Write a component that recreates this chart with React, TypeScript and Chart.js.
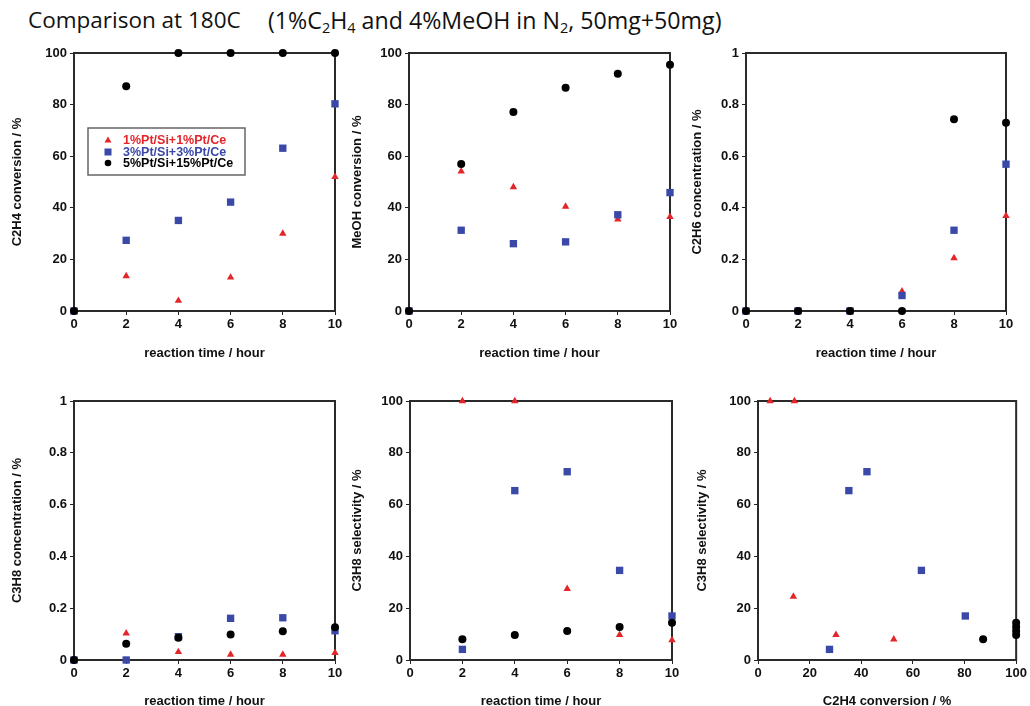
import React, { useEffect, useRef } from "react";
import { Chart, registerables } from "chart.js";

Chart.register(...registerables);

// ---------- data ----------
const seriesNames = ["1%Pt/Si+1%Pt/Ce", "3%Pt/Si+3%Pt/Ce", "5%Pt/Si+15%Pt/Ce"];
const hours = [0, 2, 4, 6, 8, 10];
const selHours = [2, 4, 6, 8, 10];

// C2H4 conversion / %
const c2h4ConvRed = [0, 13.5, 4.0, 13.0, 30.0, 52.0];
const c2h4ConvBlue = [0, 27.4, 35.1, 42.2, 63.1, 80.3];
const c2h4ConvBlack = [0, 87.1, 100, 100, 100, 100];

// MeOH conversion / %
const meohConvRed = [0, 54.1, 48.0, 40.5, 35.5, 36.5];
const meohConvBlue = [0, 31.3, 26.1, 26.8, 37.3, 45.9];
const meohConvBlack = [0, 57.0, 77.1, 86.5, 92.0, 95.4];

// C2H6 concentration / %
const c2h6Red = [0, 0, 0, 0.076, 0.205, 0.369];
const c2h6Blue = [0, 0, 0, 0.06, 0.313, 0.569];
const c2h6Black = [0, 0, 0, 0, 0.743, 0.73];

// C3H8 concentration / %
const c3h8Red = [0, 0.103, 0.031, 0.021, 0.021, 0.028];
const c3h8Blue = [0, 0, 0.09, 0.161, 0.163, 0.113];
const c3h8Black = [0, 0.063, 0.086, 0.098, 0.111, 0.126];

// C3H8 selectivity / % vs time
const selRed = [100, 100, 27.5, 9.7, 7.7];
const selBlue = [4.1, 65.4, 72.7, 34.6, 17.0];
const selBlack = [8.0, 9.7, 11.2, 12.7, 14.4];

// C3H8 selectivity / % vs C2H4 conversion / %
const convXRed = [4.7, 14.1, 13.7, 30.2, 52.6];
const convYRed = [100, 100, 24.5, 9.7, 8.0];
const convXBlue = [27.7, 35.2, 42.2, 63.3, 80.3];
const convYBlue = [4.1, 65.4, 72.7, 34.6, 17.0];
const convXBlack = [87.2, 100, 100, 100, 100];
const convYBlack = [8.0, 9.7, 11.2, 12.7, 14.4];

// ---------- styles ----------
const RED = "#e3262a";
const BLUE = "#3a49a8";
const BLACK = "#000000";
const FONT = "'Liberation Sans', Arial, sans-serif";

const pts = (xs: number[], ys: number[]) => xs.map((x, i) => ({ x, y: ys[i] }));

const mkSets = (xr: number[], yr: number[], xb: number[], yb: number[], xk: number[], yk: number[]) => [
  { label: seriesNames[0], data: pts(xr, yr), pointStyle: "triangle", pointRadius: 4.3, backgroundColor: RED, borderColor: RED, borderWidth: 0, showLine: false, clip: false, order: 3 },
  { label: seriesNames[1], data: pts(xb, yb), pointStyle: "rect", pointRadius: 5.2, backgroundColor: BLUE, borderColor: BLUE, borderWidth: 0, showLine: false, clip: false, order: 2 },
  { label: seriesNames[2], data: pts(xk, yk), pointStyle: "circle", pointRadius: 4, backgroundColor: BLACK, borderColor: BLACK, borderWidth: 0, showLine: false, clip: false, order: 1 },
];

const framePlugin = {
  id: "frame",
  beforeDatasetsDraw(chart: any) {
    const { ctx, chartArea: a } = chart;
    ctx.save();
    ctx.strokeStyle = "#2a2a2a";
    ctx.lineWidth = 2;
    ctx.strokeRect(a.left, a.top, a.right - a.left, a.bottom - a.top);
    ctx.restore();
  },
};

const legendPlugin = {
  id: "boxLegend",
  afterDraw(chart: any) {
    const { ctx, chartArea: a } = chart;
    const left = a.left + 14;
    const top = a.top + 75;
    const w = 157;
    const h = 47;
    ctx.save();
    ctx.fillStyle = "#ffffff";
    ctx.fillRect(left, top, w, h);
    ctx.strokeStyle = "#666";
    ctx.lineWidth = 1.5;
    ctx.strokeRect(left, top, w, h);
    const colors = [RED, BLUE, BLACK];
    const rows = [12, 24, 35];
    ctx.font = `bold 12.5px ${FONT}`;
    ctx.textBaseline = "middle";
    seriesNames.forEach((name, i) => {
      const mx = left + 20;
      const my = top + rows[i];
      ctx.fillStyle = colors[i];
      ctx.beginPath();
      if (i === 0) {
        ctx.moveTo(mx, my - 3.5);
        ctx.lineTo(mx + 3.5, my + 2.5);
        ctx.lineTo(mx - 3.5, my + 2.5);
        ctx.closePath();
      } else if (i === 1) {
        ctx.rect(mx - 3.5, my - 3.5, 7, 7);
      } else {
        ctx.arc(mx, my, 3.3, 0, Math.PI * 2);
      }
      ctx.fill();
      ctx.fillText(name, left + 35, my + 0.5);
    });
    ctx.restore();
  },
};

type Panel = {
  left: number; top: number; yW: number; plotW: number; plotH: number; xH: number;
  xMax: number; xStep: number; yMax: number; yStep: number;
  xTitle: string; yTitle: string; datasets: any[]; legend?: boolean;
};

const PAD_T = 12;
const PAD_R = 10;

const panels: Panel[] = [
  { left: 10, top: 53 - PAD_T, yW: 64, plotW: 261, plotH: 258, xH: 50, xMax: 10, xStep: 2, yMax: 100, yStep: 20,
    xTitle: "reaction time / hour", yTitle: "C2H4 conversion / %", datasets: mkSets(hours, c2h4ConvRed, hours, c2h4ConvBlue, hours, c2h4ConvBlack), legend: true },
  { left: 350, top: 53 - PAD_T, yW: 59, plotW: 261, plotH: 258, xH: 50, xMax: 10, xStep: 2, yMax: 100, yStep: 20,
    xTitle: "reaction time / hour", yTitle: "MeOH conversion / %", datasets: mkSets(hours, meohConvRed, hours, meohConvBlue, hours, meohConvBlack) },
  { left: 690, top: 53 - PAD_T, yW: 56, plotW: 260, plotH: 258, xH: 50, xMax: 10, xStep: 2, yMax: 1, yStep: 0.2,
    xTitle: "reaction time / hour", yTitle: "C2H6 concentration / %", datasets: mkSets(hours, c2h6Red, hours, c2h6Blue, hours, c2h6Black) },
  { left: 10, top: 401 - PAD_T, yW: 64, plotW: 261, plotH: 259, xH: 49, xMax: 10, xStep: 2, yMax: 1, yStep: 0.2,
    xTitle: "reaction time / hour", yTitle: "C3H8 concentration / %", datasets: mkSets(hours, c3h8Red, hours, c3h8Blue, hours, c3h8Black) },
  { left: 350, top: 401 - PAD_T, yW: 60, plotW: 262, plotH: 259, xH: 49, xMax: 10, xStep: 2, yMax: 100, yStep: 20,
    xTitle: "reaction time / hour", yTitle: "C3H8 selectivity / %", datasets: mkSets(selHours, selRed, selHours, selBlue, selHours, selBlack) },
  { left: 695, top: 401 - PAD_T, yW: 63, plotW: 261, plotH: 259, xH: 49, xMax: 100, xStep: 20, yMax: 100, yStep: 20,
    xTitle: "C2H4 conversion / %", yTitle: "C3H8 selectivity / %", datasets: mkSets(convXRed, convYRed, convXBlue, convYBlue, convXBlack, convYBlack) },
];

const fmt = (v: any) => String(Math.round(Number(v) * 10) / 10);

function PanelChart({ p }: { p: Panel }) {
  const ref = useRef<HTMLCanvasElement | null>(null);
  const W = p.yW + p.plotW + PAD_R;
  const H = PAD_T + p.plotH + p.xH;
  useEffect(() => {
    if (!ref.current) return;
    const tickFont = { family: FONT, size: 13, weight: "bold" as const };
    const chart = new Chart(ref.current, {
      type: "scatter",
      data: { datasets: p.datasets },
      options: {
        animation: false,
        responsive: false,
        devicePixelRatio: 1,
        layout: { padding: { top: PAD_T, right: PAD_R, left: 0, bottom: 0 } },
        plugins: { legend: { display: false }, tooltip: { enabled: false } },
        scales: {
          x: {
            type: "linear", min: 0, max: p.xMax,
            ticks: { stepSize: p.xStep, font: tickFont, color: "#111", padding: 2, maxRotation: 0, autoSkip: false, callback: fmt },
            grid: { display: true, drawOnChartArea: false, drawTicks: true, tickLength: 4, color: "#222", lineWidth: 1 },
            border: { display: false },
            title: { display: true, text: p.xTitle, font: tickFont, color: "#111", padding: 0 },
            afterFit: (s: any) => { s.height = p.xH; },
          },
          y: {
            type: "linear", min: 0, max: p.yMax,
            ticks: { stepSize: p.yStep, font: tickFont, color: "#111", padding: 3, autoSkip: false, callback: fmt },
            grid: { display: true, drawOnChartArea: false, drawTicks: true, tickLength: 4, color: "#222", lineWidth: 1 },
            border: { display: false },
            title: { display: true, text: p.yTitle, font: tickFont, color: "#111", padding: 0 },
            afterFit: (s: any) => { s.width = p.yW; },
          },
        },
      } as any,
      plugins: p.legend ? [framePlugin, legendPlugin] : [framePlugin],
    });
    return () => chart.destroy();
  }, []);
  return (
    <canvas
      ref={ref}
      width={W}
      height={H}
      style={{ position: "absolute", left: p.left, top: p.top, width: W, height: H }}
    />
  );
}

export default function App() {
  const titleStyle: React.CSSProperties = {
    position: "absolute",
    top: 9,
    fontFamily: "'Open Sans', 'Noto Sans', sans-serif",
    fontSize: 22.5,
    lineHeight: "22px",
    color: "#111",
    whiteSpace: "nowrap",
  };
  const sub: React.CSSProperties = { fontSize: 14.5, verticalAlign: "-4px", lineHeight: 0 };
  return (
    <div style={{ position: "absolute", left: 0, top: 0, width: 1030, height: 706, background: "#fff", overflow: "hidden" }}>
      <div style={{ ...titleStyle, left: 28 }}>Comparison at 180C</div>
      <div style={{ ...titleStyle, left: 268, fontSize: 23.2 }}>
        (1%C<span style={sub}>2</span>H<span style={sub}>4</span> and 4%MeOH in N<span style={sub}>2</span>, 50mg+50mg)
      </div>
      {panels.map((p, i) => (
        <PanelChart key={i} p={p} />
      ))}
    </div>
  );
}
